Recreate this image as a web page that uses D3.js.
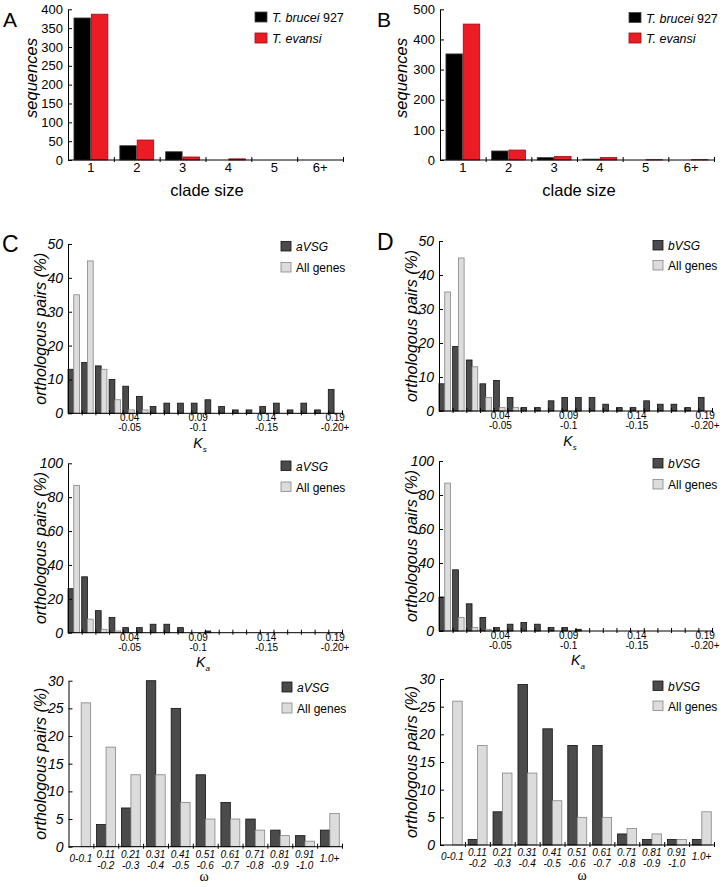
<!DOCTYPE html>
<html>
<head>
<meta charset="utf-8">
<script src="https://cdn.jsdelivr.net/npm/d3@7"></script>
<style>
  body { margin: 0; background: #fff; }
  text { font-family: "Liberation Sans", Arial, Helvetica, sans-serif; fill: #000; }
</style>
</head>
<body>
<script>
// ---- data ----
const cladeSizes = ['1', '2', '3', '4', '5', '6+'];
const bruceiA = [377, 38, 22, 0, 0, 0];
const evansiA = [387, 53, 8, 3, 0, 0];
const bruceiB = [352, 30, 8, 3, 0, 0];
const evansiB = [451, 33, 12, 8, 1, 1];

// Ks / Ka bins of width 0.01 (last one is 0.19-0.20+)
const kBins = ['0', '0.01', '0.02', '0.03', '0.04', '0.05', '0.06', '0.07', '0.08', '0.09',
  '0.1', '0.11', '0.12', '0.13', '0.14', '0.15', '0.16', '0.17', '0.18', '0.19'];
const kLabelBins = ['0.04', '0.09', '0.14', '0.19'];
const kLabelLines = [['0.04', '-0.05'], ['0.09', '-0.1'], ['0.14', '-0.15'], ['0.19', '-0.20+']];

const ksAVSG = [13, 15, 14, 10, 8, 5, 2, 3, 3, 3, 4, 2, 1, 1, 2, 3, 1, 3, 1, 7];
const ksAllC = [35, 45, 13, 4, 1, 1, 0, 0, 0, 0, 0, 0, 0, 0, 0, 0, 0, 0, 0, 0];
const ksBVSG = [8, 19, 15, 8, 9, 4, 1, 1, 3, 4, 4, 4, 2, 1, 1, 3, 2, 2, 1, 4];
const ksAllD = [35, 45, 13, 4, 1, 1, 0, 0, 0, 0, 0, 0, 0, 0, 0, 0, 0, 0, 0, 0];

const kaAVSG = [26, 33, 13, 9, 3, 3, 5, 5, 3, 0, 1, 0, 0, 0, 0, 0, 0, 0, 0, 0];
const kaAllC = [87, 8, 2, 1, 0, 0, 0, 0, 0, 0, 0, 0, 0, 0, 0, 0, 0, 0, 0, 0];
const kaBVSG = [20, 36, 16, 8, 2, 4, 5, 4, 2, 2, 1, 0, 0, 0, 0, 0, 0, 0, 0, 0];
const kaAllD = [87, 8, 2, 1, 0, 0, 0, 0, 0, 0, 0, 0, 0, 0, 0, 0, 0, 0, 0, 0];

const omegaBins = ['0-0.1', '0.11-0.2', '0.21-0.3', '0.31-0.4', '0.41-0.5', '0.51-0.6',
  '0.61-0.7', '0.71-0.8', '0.81-0.9', '0.91-1.0', '1.0+'];
const omegaLabelLines = [['0-0.1'], ['0.11', '-0.2'], ['0.21', '-0.3'], ['0.31', '-0.4'],
  ['0.41', '-0.5'], ['0.51', '-0.6'], ['0.61', '-0.7'], ['0.71', '-0.8'], ['0.81', '-0.9'],
  ['0.91', '-1.0'], ['1.0+']];
const omegaAVSG = [0, 4, 7, 30, 25, 13, 8, 5, 3, 2, 3];
const omegaAllC = [26, 18, 13, 13, 8, 5, 5, 3, 2, 1, 6];
const omegaBVSG = [0, 1, 6, 29, 21, 18, 18, 2, 1, 1, 1];
const omegaAllD = [26, 18, 13, 13, 8, 5, 5, 3, 2, 1, 6];

const yTicksA = [0, 50, 100, 150, 200, 250, 300, 350, 400];
const yTicksB = [0, 100, 200, 300, 400, 500];
const yTicksKs = [0, 10, 20, 30, 40, 50];
const yTicksKa = [0, 20, 40, 60, 80, 100];
const yTicksOmega = [0, 5, 10, 15, 20, 25, 30];

// ---- styles ----
const DARK = {fill: '#4b4b4b', stroke: '#111'};
const LIGHT = {fill: '#dcdcdc', stroke: '#858585'};
const BLACK = {fill: '#000', stroke: '#444'};
const RED = {fill: '#ec1c24', stroke: '#9a0a10'};

const svg = d3.select('body').append('svg')
  .attr('width', 723)
  .attr('height', 887);

// generic grouped bar panel
function panel(o) {
  const g = svg.append('g');
  const x = d3.scaleBand().domain(o.cats).range([o.x0, o.x1]);
  const xs = d3.scaleBand()
    .domain(d3.range(o.series.length))
    .range([o.sub[0] * x.bandwidth(), o.sub[1] * x.bandwidth()])
    .paddingInner(o.gap || 0);
  const y = d3.scaleLinear().domain([0, o.max]).range([o.y0, o.yTop]);

  o.series.forEach((s, si) => {
    const pts = s.values.map((v, i) => ({c: o.cats[i], v: v})).filter(d => d.v > 0);
    g.selectAll(null)
      .data(pts)
      .enter()
      .append('rect')
      .attr('x', d => x(d.c) + xs(si))
      .attr('y', d => y(d.v))
      .attr('width', xs.bandwidth())
      .attr('height', d => y(0) - y(d.v))
      .style('fill', s.style.fill)
      .style('stroke', s.style.stroke)
      .style('stroke-width', 0.8);
  });

  // y axis, ticks pointing inward
  const axisY = d3.axisLeft(y)
    .tickValues(o.yTicks)
    .tickSizeInner(-4)
    .tickSizeOuter(0)
    .tickPadding(5);
  const gy = g.append('g')
    .attr('transform', `translate(${o.x0},0)`)
    .call(axisY);
  gy.selectAll('text')
    .style('font-size', o.yFont + 'px')
    .style('font-style', o.yItalic ? 'italic' : 'normal')
    .style('font-family', '"Liberation Sans", Arial, sans-serif');

  // x axis: short ticks at bin edges
  const edges = d3.scaleLinear().domain([0, o.cats.length]).range([o.x0, o.x1]);
  const axisX = d3.axisBottom(edges)
    .tickValues(d3.range(1, o.cats.length + 1))
    .tickFormat('')
    .tickSizeOuter(0);
  const gx = g.append('g')
    .attr('transform', `translate(0,${o.y0})`)
    .call(axisX);
  gx.selectAll('.tick line').attr('y1', 2).attr('y2', -3);
  gx.select('.domain').attr('d', `M${o.x0},0H${o.x1}`);

  // category labels
  o.labels.forEach(l => {
    const cx = x(l.cat) + x.bandwidth() / 2;
    const lines = l.lines;
    const offs = lines.length === 1 ? o.single : o.double;
    lines.forEach((t, k) => {
      g.append('text')
        .attr('x', cx)
        .attr('y', o.y0 + offs[k])
        .attr('text-anchor', 'middle')
        .style('font-size', o.xFont + 'px')
        .style('font-style', o.xItalic ? 'italic' : 'normal')
        .text(t);
    });
  });

  // y label
  g.append('text')
    .attr('transform', `translate(${o.yLabelX},${o.yLabelY || (o.y0 + o.yTop) / 2}) rotate(-90)`)
    .attr('text-anchor', 'middle')
    .style('font-size', o.yLabelSize + 'px')
    .style('font-style', 'italic')
    .text(o.yLabel);

  // legend
  o.legend.forEach((it, k) => {
    const ly = o.legY[k];
    g.append('rect')
      .attr('x', o.legX)
      .attr('y', ly - o.legBox[1])
      .attr('width', o.legBox[0])
      .attr('height', o.legBox[1])
      .style('fill', it.style.fill)
      .style('stroke', it.style.stroke)
      .style('stroke-width', 0.8);
    const t = g.append('text')
      .attr('x', o.legX + o.legBox[0] + 5)
      .attr('y', ly)
      .style('font-size', o.legFont + 'px');
    it.parts.forEach(p => {
      t.append('tspan').style('font-style', p[1] ? 'italic' : 'normal').text(p[0]);
    });
  });

  // panel letter
  if (o.letter) {
    g.append('text')
      .attr('x', o.letter[1])
      .attr('y', o.letter[2])
      .style('font-size', o.letter[3] + 'px')
      .text(o.letter[0]);
  }
  return g;
}

function xTitle(txt, sub, cx, by, serif) {
  const t = svg.append('text')
    .attr('x', cx)
    .attr('y', by)
    .attr('text-anchor', 'middle')
    .style('font-size', '14px')
    .style('font-style', serif ? 'normal' : 'italic');
  if (serif) t.style('font-family', '"Liberation Serif", "Times New Roman", serif');
  t.append('tspan').text(txt);
  if (sub) t.append('tspan').attr('dy', 4).style('font-size', '8px').text(sub);
}

const cladeLabels = cladeSizes.map(c => ({cat: c, lines: [c]}));
const kLabels = kLabelBins.map((c, i) => ({cat: c, lines: kLabelLines[i]}));
const omegaLabels = omegaBins.map((c, i) => ({cat: c, lines: omegaLabelLines[i]}));

const legA = [
  {style: BLACK, parts: [['T. brucei', true], [' 927', false]]},
  {style: RED, parts: [['T. evansi', true]]}
];
const legC = [
  {style: DARK, parts: [['aVSG', true]]},
  {style: LIGHT, parts: [['All genes', false]]}
];
const legD = [
  {style: DARK, parts: [['bVSG', true]]},
  {style: LIGHT, parts: [['All genes', false]]}
];

// ---- A ----
panel({
  cats: cladeSizes, x0: 68, x1: 343, y0: 160, yTop: 9.3, max: 400, yTicks: yTicksA,
  series: [{values: bruceiA, style: BLACK}, {values: evansiA, style: RED}],
  sub: [0.13, 0.87], gap: 0.05,
  yFont: 13, yItalic: false, xFont: 13, xItalic: false,
  labels: cladeLabels, single: [12], double: [12, 24],
  yLabel: 'sequences', yLabelX: 37, yLabelY: 78, yLabelSize: 16.5,
  legend: legA, legX: 255, legY: [22, 43], legBox: [12, 10], legFont: 12.5,
  letter: ['A', 3, 27, 21]
});
svg.append('text').attr('x', 207).attr('y', 196).attr('text-anchor', 'middle')
  .style('font-size', '16.5px').text('clade size');

// ---- B ----
panel({
  cats: cladeSizes, x0: 440, x1: 714, y0: 160, yTop: 9.3, max: 500, yTicks: yTicksB,
  series: [{values: bruceiB, style: BLACK}, {values: evansiB, style: RED}],
  sub: [0.13, 0.87], gap: 0.05,
  yFont: 13, yItalic: false, xFont: 13, xItalic: false,
  labels: cladeLabels, single: [12], double: [12, 24],
  yLabel: 'sequences', yLabelX: 407, yLabelY: 78, yLabelSize: 16.5,
  legend: legA, legX: 629, legY: [22.5, 43], legBox: [12, 10], legFont: 12.5,
  letter: ['B', 377, 27, 21]
});
svg.append('text').attr('x', 579).attr('y', 196).attr('text-anchor', 'middle')
  .style('font-size', '16.5px').text('clade size');

// ---- C: Ks ----
panel({
  cats: kBins, x0: 68, x1: 342, y0: 413.3, yTop: 244, max: 50, yTicks: yTicksKs,
  series: [{values: ksAVSG, style: DARK}, {values: ksAllC, style: LIGHT}],
  sub: [0, 0.84],
  yFont: 14, yItalic: true, xFont: 10, xItalic: false,
  labels: kLabels, single: [8], double: [8, 18],
  yLabel: 'orthologous pairs (%)', yLabelX: 46, yLabelSize: 16,
  legend: legC, legX: 281, legY: [251, 272], legBox: [10, 9.5], legFont: 12
  , letter: ['C', 2, 252, 23]
});
xTitle('K', 's', 200, 447.5);

// ---- D: Ks ----
panel({
  cats: kBins, x0: 439, x1: 712, y0: 411, yTop: 241, max: 50, yTicks: yTicksKs,
  series: [{values: ksBVSG, style: DARK}, {values: ksAllD, style: LIGHT}],
  sub: [0, 0.84],
  yFont: 14, yItalic: true, xFont: 10, xItalic: false,
  labels: kLabels, single: [8], double: [8, 18],
  yLabel: 'orthologous pairs (%)', yLabelX: 417, yLabelSize: 16,
  legend: legD, legX: 653, legY: [250, 270], legBox: [10, 9.5], legFont: 12,
  letter: ['D', 377, 250, 23]
});
xTitle('K', 's', 570, 445.5);

// ---- C: Ka ----
panel({
  cats: kBins, x0: 68, x1: 342, y0: 632.7, yTop: 463.3, max: 100, yTicks: yTicksKa,
  series: [{values: kaAVSG, style: DARK}, {values: kaAllC, style: LIGHT}],
  sub: [0, 0.84],
  yFont: 14, yItalic: true, xFont: 10, xItalic: false,
  labels: kLabels, single: [8], double: [8, 18],
  yLabel: 'orthologous pairs (%)', yLabelX: 46, yLabelSize: 16,
  legend: legC, legX: 281, legY: [470.5, 491.5], legBox: [10, 9.5], legFont: 12
});
xTitle('K', 'a', 203, 667);

// ---- D: Ka ----
panel({
  cats: kBins, x0: 439, x1: 712, y0: 631, yTop: 461, max: 100, yTicks: yTicksKa,
  series: [{values: kaBVSG, style: DARK}, {values: kaAllD, style: LIGHT}],
  sub: [0, 0.84],
  yFont: 14, yItalic: true, xFont: 10, xItalic: false,
  labels: kLabels, single: [8], double: [8, 18],
  yLabel: 'orthologous pairs (%)', yLabelX: 417, yLabelSize: 16,
  legend: legD, legX: 653, legY: [468, 489], legBox: [10, 9.5], legFont: 12
});
xTitle('K', 'a', 578, 665);

// ---- C: omega ----
panel({
  cats: omegaBins, x0: 68.5, x1: 342, y0: 846.7, yTop: 680.7, max: 30, yTicks: yTicksOmega,
  series: [{values: omegaAVSG, style: DARK}, {values: omegaAllC, style: LIGHT}],
  sub: [0.13, 0.89],
  yFont: 14, yItalic: true, xFont: 10, xItalic: true,
  labels: omegaLabels, single: [15], double: [11, 22],
  yLabel: 'orthologous pairs (%)', yLabelX: 46, yLabelSize: 16,
  legend: legC, legX: 282, legY: [692, 713], legBox: [10, 10], legFont: 12
});
xTitle('\u03c9', null, 204, 881, true);

// ---- D: omega ----
panel({
  cats: omegaBins, x0: 440, x1: 714, y0: 845, yTop: 679, max: 30, yTicks: yTicksOmega,
  series: [{values: omegaBVSG, style: DARK}, {values: omegaAllD, style: LIGHT}],
  sub: [0.13, 0.89],
  yFont: 14, yItalic: true, xFont: 10, xItalic: true,
  labels: omegaLabels, single: [15], double: [11, 22],
  yLabel: 'orthologous pairs (%)', yLabelX: 417, yLabelSize: 16,
  legend: legD, legX: 653, legY: [690.5, 710.5], legBox: [10, 9.5], legFont: 12
});
xTitle('\u03c9', null, 582, 880, true);
</script>
</body>
</html>
